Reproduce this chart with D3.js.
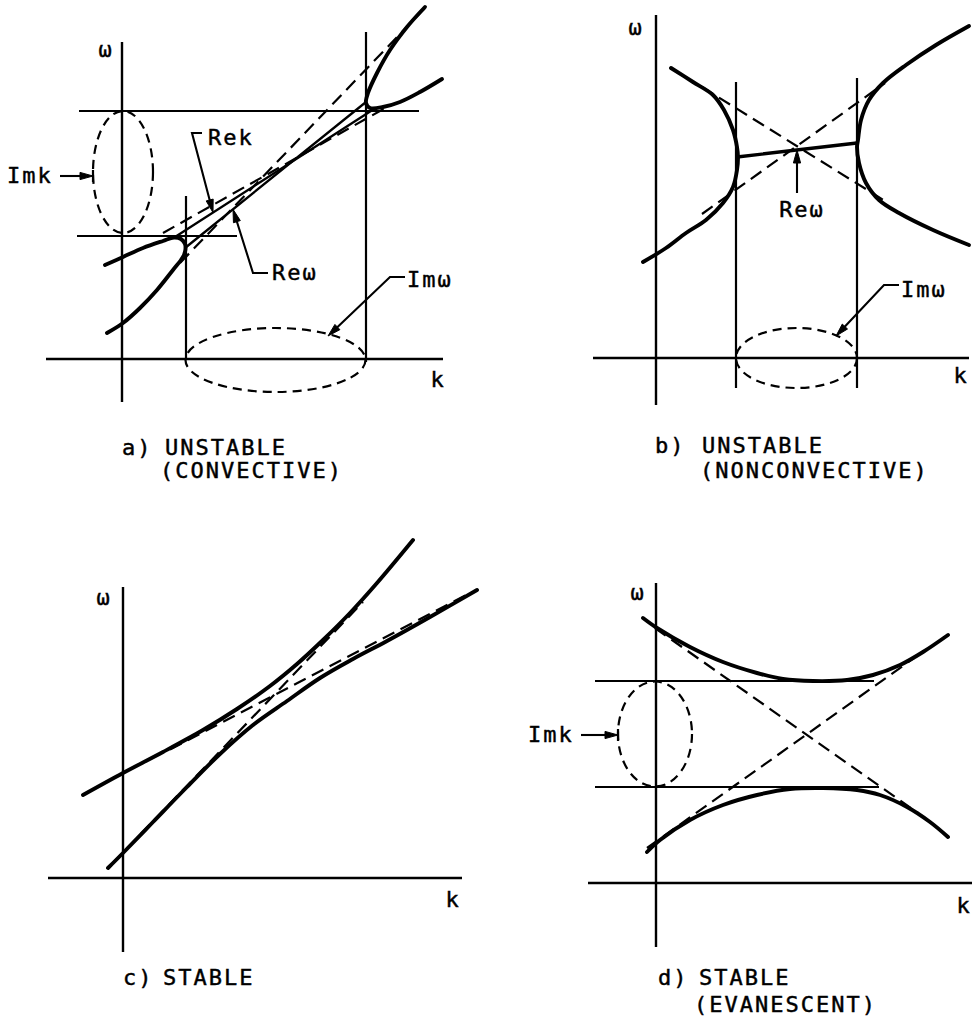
<!DOCTYPE html>
<html>
<head>
<meta charset="utf-8">
<script src="https://cdn.jsdelivr.net/npm/d3@7"></script>
<style>
  html, body { margin: 0; padding: 0; background: #fff; }
  svg { display: block; }
  text { font-family: "DejaVu Sans Mono", monospace; font-size: 22px; fill: #000; stroke: #000; stroke-width: 0.45px; letter-spacing: 2px; }
</style>
</head>
<body>
<svg id="fig" width="972" height="1029"></svg>
<script>
// ---------------------------------------------------------------
// Dispersion diagrams, omega versus k, for four kinds of coupling.
// All values are (k, ω) pairs in plot units, origin at the axes.
// ---------------------------------------------------------------

// (a) unstable, convective
const aAxisK = [-7.6, 32.1];
const aAxisW = [-4.3, 31.7];
const aLeftBranch = [[-1.7, 9.4], [0.1, 10.2], [2.1, 11.1], [4.1, 11.8], [5.2, 12.15], [5.9, 12.0],
  [6.3, 11.5], [6.35, 11.0], [6.2, 10.4], [5.9, 9.9], [5.1, 8.9], [3.5, 6.9], [1.8, 5.1], [0.1, 3.6], [-1.5, 2.6]];
const aRightBranch = [[30.3, 35.2], [28.5, 33.2], [26.8, 30.9], [25.5, 28.6], [24.6, 26.6], [24.4, 25.6],
  [24.8, 25.1], [26.1, 25.2], [27.8, 25.7], [29.8, 26.7], [32.0, 28.0]];
const aAsymSteep = [[5.8, 9.6], [30.3, 35.1]];
const aAsymShallow = [[4.1, 12.6], [26.5, 25.2]];
const aReK = [[5.3, 12.2], [25.2, 25.0]];
const aReW = [[6.3, 11.1], [24.4, 25.7]];
const aGuides = [
  [[-4.3, 24.8], [29.7, 24.8]],
  [[-4.5, 12.3], [11.5, 12.3]],
  [[6.4, 16.3], [6.4, 0]],
  [[24.4, 32.7], [24.4, -0.3]]
];
const aImkLoop = { k: 0.1, w: 18.7, rk: 3.0, rw: 6.1 };
const aImwLoop = { k: 15.35, w: -0.1, rk: 9.0, rw: 3.2 };

// (b) unstable, nonconvective
const bAxisK = [-6.3, 31.3];
const bAxisW = [-4.7, 34.3];
const bLeftBranch = [[1.5, 29.0], [3.7, 27.6], [5.7, 26.3], [6.8, 24.8], [7.7, 22.8], [8.1, 21.1], [8.2, 20.1],
  [8.1, 18.8], [7.7, 17.1], [6.7, 15.5], [5.0, 13.8], [3.0, 12.5], [1.0, 11.0], [-1.3, 9.6]];
const bRightBranch = [[31.3, 33.2], [28.0, 31.3], [25.0, 29.3], [22.7, 27.5], [21.3, 25.8], [20.5, 23.8], [20.2, 21.8],
  [20.1, 21.1], [20.3, 19.5], [21.0, 17.5], [22.3, 15.8], [24.3, 14.5], [27.7, 12.8], [31.3, 11.3]];
const bAsymDown = [[4.6, 27.1], [22.9, 15.7]];
const bAsymUp = [[4.6, 14.4], [22.9, 27.5]];
const bReW = [[8.1, 20.1], [20.1, 21.5]];
const bGuides = [
  [[8.0, 27.6], [8.0, -3.0]],
  [[20.1, 28.0], [20.1, -3.0]]
];
const bImwLoop = { k: 14.05, w: 0, rk: 6.05, rw: 3.0 };

// (c) stable
const cAxisK = [-7.5, 33.9];
const cAxisW = [-7.4, 29.1];
const cUpper = [[-4.0, 8.3], [0, 10.5], [4.0, 12.6], [8.0, 14.8], [11.4, 16.9], [14.7, 19.2], [17.4, 21.4],
  [20.0, 23.8], [22.7, 26.5], [25.4, 29.5], [29.0, 33.8]];
const cLower = [[-1.5, 1.0], [0, 2.5], [3.0, 5.6], [6.4, 9.1], [9.7, 12.4], [13.0, 15.3], [16.4, 17.7],
  [19.7, 20.0], [23.0, 21.9], [26.4, 23.7], [30.7, 26.1], [35.4, 28.8]];
const cAsymShallow = [[4.7, 12.85], [34.7, 28.5]];
const cAsymSteep = [[-1.0, 1.5], [24.0, 27.6]];

// (d) stable, evanescent
const dAxisK = [-6.8, 31.6];
const dAxisW = [-6.4, 30.0];
const dUpper = [[-1.3, 26.5], [0.1, 25.5], [3.4, 23.6], [6.7, 22.1], [10.1, 21.0], [12.7, 20.4], [15.7, 20.2],
  [19.1, 20.3], [21.7, 20.8], [24.4, 21.8], [26.7, 23.1], [29.2, 24.8]];
const dLower = [[-0.9, 3.1], [0.4, 4.3], [3.4, 6.3], [6.7, 7.8], [10.1, 8.8], [13.4, 9.4], [16.7, 9.5],
  [20.1, 9.3], [22.4, 8.8], [25.1, 7.6], [27.4, 6.1], [29.2, 4.6]];
const dAsymDown = [[-0.1, 25.5], [26.2, 7.0]];
const dAsymUp = [[-0.9, 3.5], [25.8, 22.5]];
const dGuides = [
  [[-6.1, 20.2], [21.8, 20.2]],
  [[-6.1, 9.6], [22.3, 9.6]]
];
const dImkLoop = { k: -0.1, w: 14.9, rk: 3.7, rw: 5.25 };

// ---------------------------------------------------------------
// Layout: where each panel's origin sits and the size of one unit
// ---------------------------------------------------------------
const unitPx = 10;
const layout = {
  a: { ox: 122, oy: 359 },
  b: { ox: 656, oy: 358 },
  c: { ox: 123, oy: 878 },
  d: { ox: 656, oy: 883 }
};

// Annotation placement, in each panel's (k, ω) units
const notes = {
  a: [
    { t: "ω", k: -1.6, w: 30.2, anchor: "middle" },
    { t: "k", k: 31.6, w: -2.8, anchor: "middle" },
    { t: "Rek", k: 8.6, w: 21.4 },
    { t: "Reω", k: 15.0, w: 7.9 },
    { t: "Imω", k: 28.5, w: 7.2 },
    { t: "Imk", k: -11.5, w: 17.6 },
    { t: "a)", k: 0.0, w: -9.6 },
    { t: "UNSTABLE", k: 4.3, w: -9.6 },
    { t: "(CONVECTIVE)", k: 3.8, w: -11.9 }
  ],
  b: [
    { t: "ω", k: -2.0, w: 32.3, anchor: "middle" },
    { t: "k", k: 30.5, w: -2.5, anchor: "middle" },
    { t: "Reω", k: 14.6, w: 14.1, anchor: "middle" },
    { t: "Imω", k: 24.5, w: 6.1 },
    { t: "b)", k: -0.1, w: -9.5 },
    { t: "UNSTABLE", k: 4.6, w: -9.5 },
    { t: "(NONCONVECTIVE)", k: 4.4, w: -12.0 }
  ],
  c: [
    { t: "ω", k: -1.9, w: 27.3, anchor: "middle" },
    { t: "k", k: 33.0, w: -2.9, anchor: "middle" },
    { t: "c)", k: 0.0, w: -10.7 },
    { t: "STABLE", k: 4.0, w: -10.7 }
  ],
  d: [
    { t: "ω", k: -1.8, w: 28.3, anchor: "middle" },
    { t: "k", k: 30.8, w: -3.0, anchor: "middle" },
    { t: "Imk", k: -12.8, w: 14.1 },
    { t: "d)", k: 0.2, w: -10.2 },
    { t: "STABLE", k: 4.3, w: -10.2 },
    { t: "(EVANESCENT)", k: 3.8, w: -12.9 }
  ]
};

// ---------------------------------------------------------------
// Drawing helpers
// ---------------------------------------------------------------
const svg = d3.select("#fig");

function scalesFor(p) {
  return {
    x: d3.scaleLinear().domain([0, 1]).range([p.ox, p.ox + unitPx]),
    y: d3.scaleLinear().domain([0, 1]).range([p.oy, p.oy - unitPx])
  };
}

// point on a straight segment at a given k
function along(seg, k) {
  const [[k0, w0], [k1, w1]] = seg;
  return [k, w0 + (w1 - w0) * (k - k0) / (k1 - k0)];
}

function drawAxes(g, s, kr, wr) {
  g.append("line").attr("x1", s.x(kr[0])).attr("x2", s.x(kr[1]))
    .attr("y1", s.y(0)).attr("y2", s.y(0))
    .attr("stroke", "#000").attr("stroke-width", 2.4);
  g.append("line").attr("x1", s.x(0)).attr("x2", s.x(0))
    .attr("y1", s.y(wr[0])).attr("y2", s.y(wr[1]))
    .attr("stroke", "#000").attr("stroke-width", 2.4);
}

function drawPath(g, s, pts, opts) {
  const gen = d3.line().x(d => s.x(d[0])).y(d => s.y(d[1]));
  if (opts.smooth) gen.curve(d3.curveCatmullRom.alpha(0.5));
  const p = g.append("path").attr("d", gen(pts))
    .attr("fill", "none").attr("stroke", "#000")
    .attr("stroke-width", opts.width)
    .attr("stroke-linecap", opts.cap || "round")
    .attr("stroke-linejoin", "round");
  if (opts.dash) p.attr("stroke-dasharray", opts.dash);
  return p;
}

function drawLoop(g, s, e) {
  g.append("ellipse")
    .attr("cx", s.x(e.k)).attr("cy", s.y(e.w))
    .attr("rx", s.x(e.k + e.rk) - s.x(e.k))
    .attr("ry", s.y(e.w) - s.y(e.w + e.rw))
    .attr("fill", "none").attr("stroke", "#000")
    .attr("stroke-width", 2.2).attr("stroke-dasharray", "9,6");
}

// leader line ending in a filled arrowhead at its last point
function drawLeader(g, s, pts, tick) {
  const px = pts.map(d => [s.x(d[0]), s.y(d[1])]);
  const n = px.length;
  const [tx, ty] = px[n - 1];
  const [fx, fy] = px[n - 2];
  const ang = Math.atan2(ty - fy, tx - fx);
  const len = 13, half = 3.6;
  const bx = tx - len * Math.cos(ang), by = ty - len * Math.sin(ang);
  const shaft = px.slice(0, n - 1).concat([[bx + 2 * Math.cos(ang), by + 2 * Math.sin(ang)]]);
  g.append("path").attr("d", d3.line()(shaft))
    .attr("fill", "none").attr("stroke", "#000").attr("stroke-width", 2.1)
    .attr("stroke-linejoin", "miter");
  const nx = -Math.sin(ang), ny = Math.cos(ang);
  g.append("path")
    .attr("d", d3.line()([[tx, ty], [bx + half * nx, by + half * ny], [bx - half * nx, by - half * ny]]) + "Z")
    .attr("fill", "#000").attr("stroke", "#000").attr("stroke-width", 1);
  if (tick) {
    g.append("line").attr("x1", tx).attr("x2", tx)
      .attr("y1", ty - 6).attr("y2", ty + 6)
      .attr("stroke", "#000").attr("stroke-width", 2.2);
  }
}

function drawTexts(g, s, list) {
  g.selectAll("text.lbl").data(list).join("text")
    .attr("class", "lbl")
    .attr("x", d => s.x(d.k)).attr("y", d => s.y(d.w))
    .attr("text-anchor", d => d.anchor || "start")
    .text(d => d.t);
}

const CURVE = 3.9, GUIDE = 2.2, DASH = "13,7", DW = 2.2;

// ---------------------------------------------------------------
// (a) unstable, convective
// ---------------------------------------------------------------
{
  const s = scalesFor(layout.a);
  const g = svg.append("g");
  drawAxes(g, s, aAxisK, aAxisW);
  aGuides.forEach(seg => drawPath(g, s, seg, { width: GUIDE, cap: "butt" }));
  drawLoop(g, s, aImkLoop);
  drawLoop(g, s, aImwLoop);
  drawPath(g, s, aAsymSteep, { width: DW, dash: DASH, cap: "butt" });
  drawPath(g, s, aAsymShallow, { width: DW, dash: DASH, cap: "butt" });
  drawPath(g, s, aReK, { width: 2.3 });
  drawPath(g, s, aReW, { width: 2.3 });
  drawPath(g, s, aLeftBranch, { width: CURVE, smooth: true });
  drawPath(g, s, aRightBranch, { width: CURVE, smooth: true });
  drawLeader(g, s, [[8.0, 22.6], [7.0, 22.6], along(aReK, 9.1)]);
  drawLeader(g, s, [[14.6, 8.6], [13.1, 8.6], along(aReW, 11.1)]);
  drawLeader(g, s, [[28.3, 8.2], [26.8, 8.2], [20.6, 2.3]]);
  drawLeader(g, s, [[-6.2, 18.3], [aImkLoop.k - aImkLoop.rk, 18.3]], true);
  drawTexts(g, s, notes.a);
}

// ---------------------------------------------------------------
// (b) unstable, nonconvective
// ---------------------------------------------------------------
{
  const s = scalesFor(layout.b);
  const g = svg.append("g");
  drawAxes(g, s, bAxisK, bAxisW);
  bGuides.forEach(seg => drawPath(g, s, seg, { width: GUIDE, cap: "butt" }));
  drawLoop(g, s, bImwLoop);
  drawPath(g, s, bAsymDown, { width: DW, dash: DASH, cap: "butt" });
  drawPath(g, s, bAsymUp, { width: DW, dash: DASH, cap: "butt" });
  drawPath(g, s, bReW, { width: 3.4 });
  drawPath(g, s, bLeftBranch, { width: CURVE, smooth: true });
  drawPath(g, s, bRightBranch, { width: CURVE, smooth: true });
  drawLeader(g, s, [[14.1, 16.5], along(bReW, 14.1)]);
  drawLeader(g, s, [[24.3, 7.3], [22.8, 7.3], [18.0, 2.2]]);
  drawTexts(g, s, notes.b);
}

// ---------------------------------------------------------------
// (c) stable
// ---------------------------------------------------------------
{
  const s = scalesFor(layout.c);
  const g = svg.append("g");
  drawAxes(g, s, cAxisK, cAxisW);
  drawPath(g, s, cAsymShallow, { width: DW, dash: DASH, cap: "butt" });
  drawPath(g, s, cAsymSteep, { width: DW, dash: DASH, cap: "butt" });
  drawPath(g, s, cUpper, { width: CURVE, smooth: true });
  drawPath(g, s, cLower, { width: CURVE, smooth: true });
  drawTexts(g, s, notes.c);
}

// ---------------------------------------------------------------
// (d) stable, evanescent
// ---------------------------------------------------------------
{
  const s = scalesFor(layout.d);
  const g = svg.append("g");
  drawAxes(g, s, dAxisK, dAxisW);
  dGuides.forEach(seg => drawPath(g, s, seg, { width: GUIDE, cap: "butt" }));
  drawLoop(g, s, dImkLoop);
  drawPath(g, s, dAsymDown, { width: DW, dash: DASH, cap: "butt" });
  drawPath(g, s, dAsymUp, { width: DW, dash: DASH, cap: "butt" });
  drawPath(g, s, dUpper, { width: CURVE, smooth: true });
  drawPath(g, s, dLower, { width: CURVE, smooth: true });
  drawLeader(g, s, [[-7.5, 14.8], [dImkLoop.k - dImkLoop.rk, 14.8]], true);
  drawTexts(g, s, notes.d);
}
</script>
</body>
</html>
